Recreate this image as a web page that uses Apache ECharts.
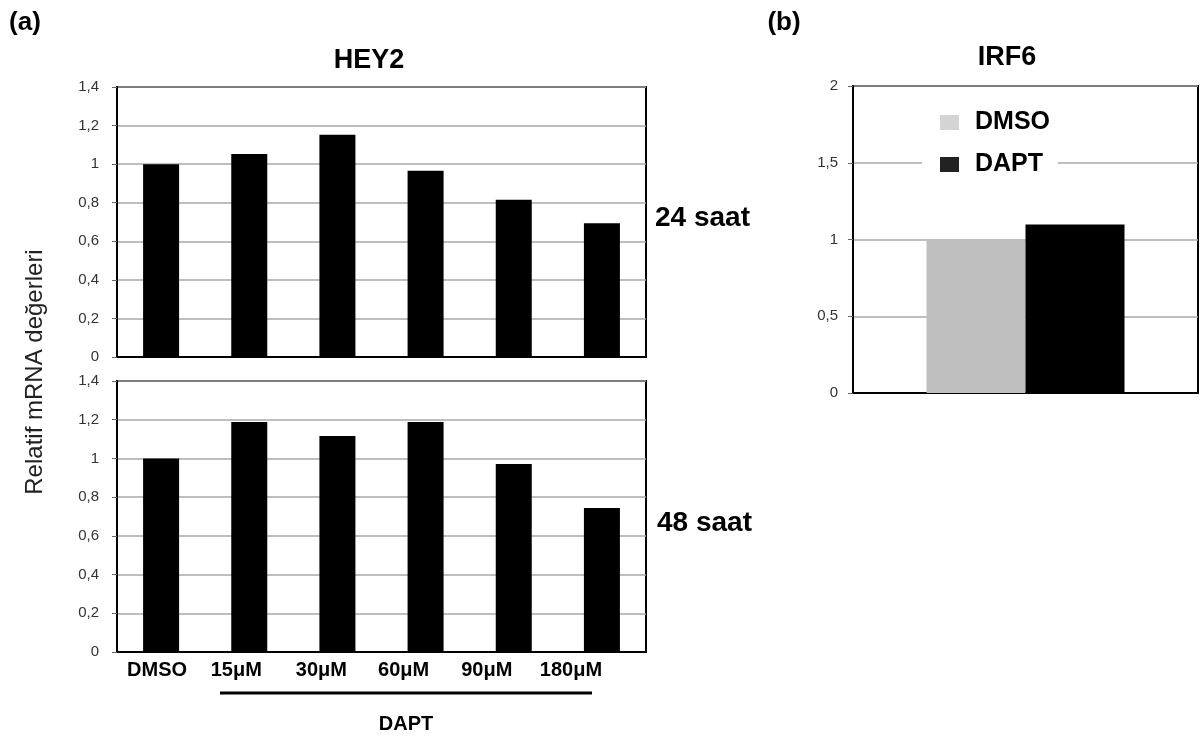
<!DOCTYPE html>
<html>
<head>
<meta charset="utf-8">
<script src="https://cdn.jsdelivr.net/npm/echarts@6/dist/echarts.min.js"></script>
<style>
html,body{margin:0;padding:0;background:#fff;}
#chart{width:1204px;height:736px;}
</style>
</head>
<body>
<div id="chart"></div>
<script>
// ---- data ----
const categories = ['DMSO', '15μM', '30μM', '60μM', '90μM', '180μM'];
const hey2_24saat = [1.0, 1.052, 1.153, 0.966, 0.816, 0.693];
const hey2_48saat = [1.0, 1.188, 1.116, 1.188, 0.971, 0.744];
const irf6Groups = ['DMSO', 'DAPT'];
const irf6Values = [1.0, 1.097];
const irf6Category = [''];

// ---- styles ----
const FONT = "'Liberation Sans', Arial, sans-serif";
const labelShift = [4, 13, 16, 22, 27, 31];
const gridLine = { show: true, lineStyle: { color: '#a8a8a8', width: 1.5 } };
const yLabel = { color: '#333', fontSize: 15, fontFamily: FONT, formatter: v => String(v).replace('.', ',') };
const axisLineBlack = { show: true, lineStyle: { color: '#000', width: 2 } };
const tick = { show: true, length: 5, lineStyle: { color: '#666', width: 1 } };

const rich = {};
labelShift.forEach((d, i) => {
  rich['s' + i] = { fontSize: 20, fontWeight: 'bold', fontFamily: FONT, color: '#000', padding: [0, 2 * d, 0, 0] };
});

const chart = echarts.init(document.getElementById('chart'), null, { renderer: 'canvas' });

const option = {
  backgroundColor: '#fff',
  animation: false,
  grid: [
    { left: 117, top: 87, width: 529, height: 270, show: true, borderColor: '#000', borderWidth: 2, containLabel: false },
    { left: 117, top: 381, width: 529, height: 271, show: true, borderColor: '#000', borderWidth: 2, containLabel: false },
    { left: 853, top: 86, width: 345, height: 307, show: true, borderColor: '#000', borderWidth: 2, containLabel: false }
  ],
  xAxis: [
    { type: 'category', gridIndex: 0, data: categories, axisLabel: { show: false }, axisTick: { show: false }, axisLine: axisLineBlack },
    { type: 'category', gridIndex: 1, data: categories, axisTick: { show: false }, axisLine: axisLineBlack,
      axisLabel: { interval: 0, hideOverlap: false, margin: 8, formatter: (v, i) => '{s' + i + '|' + v + '}', rich: rich, fontSize: 20, fontWeight: 'bold', fontFamily: FONT, color: '#000' } },
    { type: 'category', gridIndex: 2, data: irf6Category, axisLabel: { show: false }, axisTick: { show: false }, axisLine: axisLineBlack }
  ],
  yAxis: [
    { type: 'value', gridIndex: 0, min: 0, max: 1.4, interval: 0.2, splitLine: gridLine, axisLine: axisLineBlack, axisTick: tick, axisLabel: Object.assign({ margin: 18 }, yLabel) },
    { type: 'value', gridIndex: 1, min: 0, max: 1.4, interval: 0.2, splitLine: gridLine, axisLine: axisLineBlack, axisTick: tick, axisLabel: Object.assign({ margin: 18 }, yLabel) },
    { type: 'value', gridIndex: 2, min: 0, max: 2, interval: 0.5, splitLine: gridLine, axisLine: axisLineBlack, axisTick: tick, axisLabel: Object.assign({ margin: 15 }, yLabel) }
  ],
  legend: {
    data: [
      { name: irf6Groups[0], itemStyle: { color: '#d4d4d4' } },
      { name: irf6Groups[1], itemStyle: { color: '#222' } }
    ],
    orient: 'vertical',
    left: 922, top: 104,
    itemWidth: 19, itemHeight: 15, itemGap: 17,
    icon: 'rect',
    backgroundColor: '#fff',
    padding: [6, 8, 8, 18],
    selectedMode: false,
    textStyle: { fontSize: 25, fontWeight: 'bold', color: '#000', fontFamily: FONT, padding: [0, 0, 0, 11] }
  },
  series: [
    { type: 'bar', name: '24 saat', xAxisIndex: 0, yAxisIndex: 0, data: hey2_24saat, barWidth: 36, itemStyle: { color: '#000' } },
    { type: 'bar', name: '48 saat', xAxisIndex: 1, yAxisIndex: 1, data: hey2_48saat, barWidth: 36, itemStyle: { color: '#000' } },
    { type: 'bar', name: irf6Groups[0], xAxisIndex: 2, yAxisIndex: 2, data: [irf6Values[0]], barWidth: 99, barGap: '0%', itemStyle: { color: '#bfbfbf' } },
    { type: 'bar', name: irf6Groups[1], xAxisIndex: 2, yAxisIndex: 2, data: [irf6Values[1]], barWidth: 99, barGap: '0%', itemStyle: { color: '#000' } }
  ],
  graphic: [
    { type: 'text', x: 25, y: 23, style: { text: '(a)', font: "bold 26px " + FONT, fill: '#000', textAlign: 'center', textVerticalAlign: 'middle', verticalAlign: 'middle' } },
    { type: 'text', x: 784, y: 23, style: { text: '(b)', font: "bold 26px " + FONT, fill: '#000', textAlign: 'center', textVerticalAlign: 'middle', verticalAlign: 'middle' } },
    { type: 'text', x: 369, y: 61, style: { text: 'HEY2', font: "bold 27px " + FONT, fill: '#000', textAlign: 'center', textVerticalAlign: 'middle', verticalAlign: 'middle' } },
    { type: 'text', x: 1007, y: 58, style: { text: 'IRF6', font: "bold 27px " + FONT, fill: '#000', textAlign: 'center', textVerticalAlign: 'middle', verticalAlign: 'middle' } },
    { type: 'text', x: 655, y: 218, style: { text: '24 saat', font: "bold 28px " + FONT, fill: '#000', textAlign: 'left', textVerticalAlign: 'middle', verticalAlign: 'middle' } },
    { type: 'text', x: 657, y: 523, style: { text: '48 saat', font: "bold 28px " + FONT, fill: '#000', textAlign: 'left', textVerticalAlign: 'middle', verticalAlign: 'middle' } },
    { type: 'text', x: 35, y: 372, rotation: Math.PI / 2, style: { text: 'Relatif mRNA değerleri', font: "24px " + FONT, fill: '#222', textAlign: 'center', textVerticalAlign: 'middle', verticalAlign: 'middle' } },
    { type: 'line', shape: { x1: 220, y1: 693, x2: 592, y2: 693 }, style: { stroke: '#000', lineWidth: 3 } },
    { type: 'text', x: 406, y: 724, style: { text: 'DAPT', font: "bold 20px " + FONT, fill: '#000', textAlign: 'center', textVerticalAlign: 'middle', verticalAlign: 'middle' } }
  ]
};

chart.setOption(option);
</script>
</body>
</html>
